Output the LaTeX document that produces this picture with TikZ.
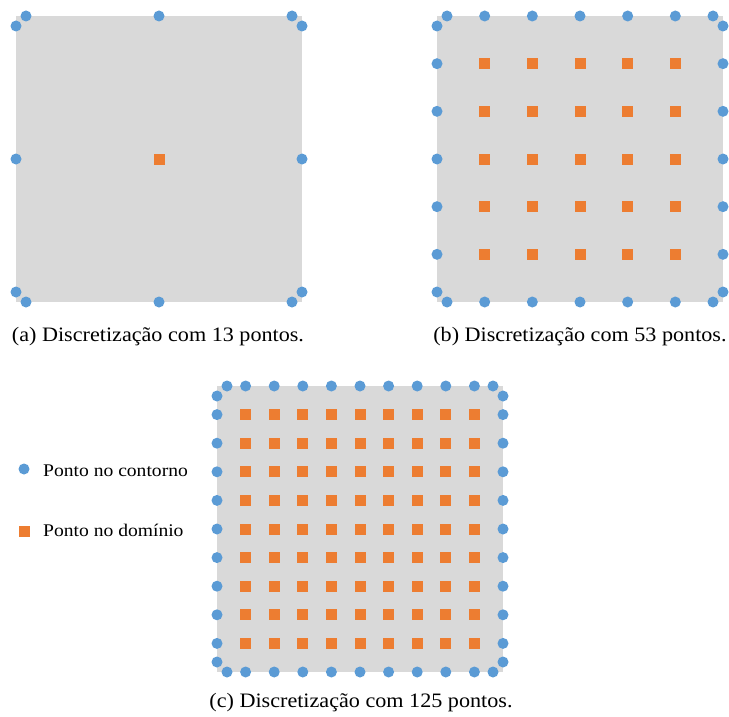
\documentclass[tikz,border=0pt]{standalone}
\usepackage{fontspec}
\setmainfont{Liberation Serif}
\newfontfamily\capfont[FakeStretch=1.08]{Liberation Serif}
\newfontfamily\legfont[FakeStretch=1.1]{Liberation Serif}
\definecolor{panelgray}{HTML}{D9D9D9}
\definecolor{bluept}{HTML}{5B9BD5}
\definecolor{orangept}{HTML}{ED7D31}

% One discretised square: #1 left, #2 top, #3 number of divisions per side
\newcommand\discpanel[3]{%
  \fill[panelgray] (#1,#2) rectangle ++(286,286);
  \pgfmathsetmacro\cellw{286/#3}
  \pgfmathtruncatemacro\lastk{#3-1}
  % boundary points next to each corner
  \foreach \cx/\cy/\dx/\dy in {0/0/1/1, 286/0/-1/1, 0/286/1/-1, 286/286/-1/-1} {
    \fill[bluept] (#1+\cx+10*\dx, #2+\cy) circle (5.5pt);
    \fill[bluept] (#1+\cx, #2+\cy+10*\dy) circle (5.5pt);
  }
  % regular boundary points and interior points
  \foreach \k in {1,...,\lastk} {
    \fill[bluept] (#1+\k*\cellw, #2) circle (5.5pt);
    \fill[bluept] (#1+\k*\cellw, #2+286) circle (5.5pt);
    \fill[bluept] (#1, #2+\k*\cellw) circle (5.5pt);
    \fill[bluept] (#1+286, #2+\k*\cellw) circle (5.5pt);
    \foreach \j in {1,...,\lastk} {
      \fill[orangept] (#1+\k*\cellw-5.5, #2+\j*\cellw-5.5) rectangle ++(11,11);
    }
  }
}

\begin{document}
\begin{tikzpicture}[x=1pt,y=-1pt,
  caption/.style={anchor=base, inner sep=0pt,
    font=\capfont\fontsize{20.5}{24}\selectfont},
  legtext/.style={anchor=base west, inner sep=0pt,
    font=\legfont\fontsize{17.8}{21}\selectfont}]
  \useasboundingbox (0,0) rectangle (729,717);

  \discpanel{16}{16}{2}
  \discpanel{437}{16}{6}
  \discpanel{217}{386}{10}

  \node[caption] (capa) at (158,341) {(a) Discretização com 13 pontos.};
  \node[caption] (capb) at (580,341) {(b) Discretização com 53 pontos.};
  \node[caption] (capc) at (361,707) {(c) Discretização com 125 pontos.};

  % legend
  \fill[bluept] (24,469) circle (5.5pt);
  \node[legtext] (legb) at (43,476) {Ponto no contorno};
  \fill[orangept] (18.5,525.5) rectangle ++(11,11);
  \node[legtext] (lego) at (43,536) {Ponto no domínio};
\end{tikzpicture}
\end{document}
